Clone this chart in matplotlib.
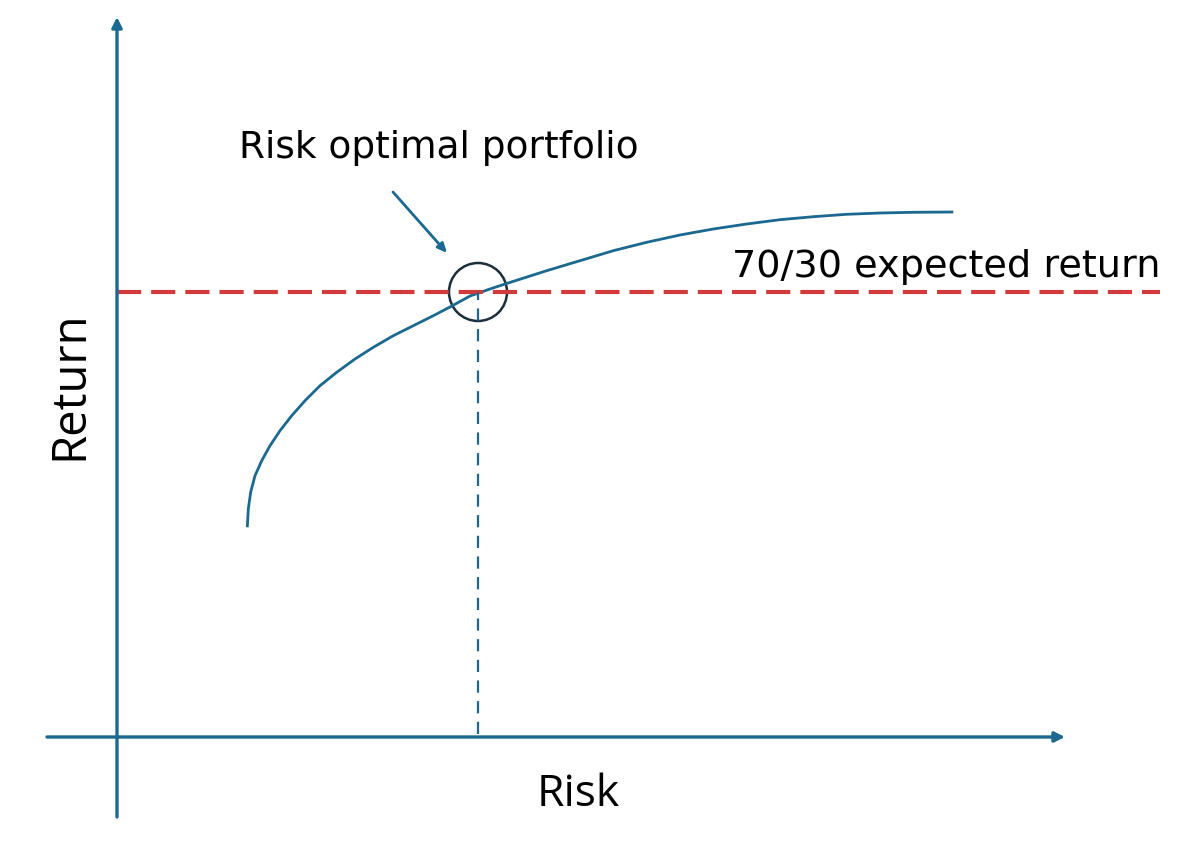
import matplotlib
matplotlib.use('Agg')
import matplotlib.pyplot as plt
from matplotlib.patches import Circle

# efficient frontier (risk, return)
risk = [1.303, 1.313, 1.337, 1.38, 1.447, 1.53, 1.63, 1.747, 1.88, 2.03,
        2.197, 2.38, 2.563, 2.763, 2.963, 3.163, 3.33, 3.53, 3.73, 3.88,
        4.297, 4.63, 4.963, 5.297, 5.63, 5.963, 6.297, 6.63, 6.963, 7.297,
        7.63, 7.963, 8.363]
ret = [2.097, 2.28, 2.45, 2.613, 2.763, 2.913, 3.063, 3.213, 3.363, 3.513,
       3.647, 3.78, 3.897, 4.013, 4.113, 4.213, 4.30, 4.41, 4.48, 4.53,
       4.663, 4.763, 4.863, 4.947, 5.02, 5.08, 5.13, 5.173, 5.203, 5.227,
       5.24, 5.247, 5.25]

target_return = 4.45   # 70/30 expected return
optimal_risk = 3.61    # risk of the optimal portfolio

blue = '#1b6890'
red = '#d13b3b'

fig = plt.figure(figsize=(12, 8.62), dpi=100)
ax = fig.add_axes([0, 0, 1, 1])
ax.set_xlim(-1.17, 10.83)
ax.set_ylim(-1.24, 7.38)
ax.axis('off')

# axes arrows
arrow = dict(arrowstyle='-|>,head_length=0.6,head_width=0.3', color=blue, lw=2.4,
             shrinkA=0, shrinkB=0)
ax.annotate('', xy=(0, 7.2), xytext=(0, -0.8), arrowprops=arrow)
ax.annotate('', xy=(9.48, 0), xytext=(-0.7, 0), arrowprops=arrow)

# frontier
ax.plot(risk, ret, color=blue, lw=2.0, solid_capstyle='butt',
        solid_joinstyle='round')

# expected return line
ax.plot([0, 10.43], [target_return, target_return], color=red, lw=3,
        linestyle=(0, (5.8, 2.4)))

# vertical drop to risk axis
ax.plot([optimal_risk, optimal_risk], [0.03, target_return], color=blue, lw=1.6,
        linestyle=(0, (5.5, 3.8)))

# circle around the optimum
ax.add_patch(Circle((optimal_risk, target_return), 0.29, fill=False,
                    edgecolor='#1c2f3c', lw=1.8))

# pointer to the optimum
ax.annotate('', xy=(3.30, 4.84), xytext=(2.76, 5.45),
            arrowprops=dict(arrowstyle='-|>,head_length=0.55,head_width=0.25',
                            color=blue, lw=2, shrinkA=0, shrinkB=0))

ax.text(3.215, 5.90, 'Risk optimal portfolio', ha='center', va='center',
        fontsize=27, family='DejaVu Sans')
ax.text(10.43, 4.71, '70/30 expected return', ha='right', va='center',
        fontsize=27.5, family='DejaVu Sans')
ax.text(-0.47, 3.53, 'Return', rotation=90, ha='center', va='center',
        fontsize=34, family='Open Sans')
ax.text(4.61, -0.57, 'Risk', ha='center', va='center', fontsize=32,
        family='Open Sans')

plt.savefig('out.png', dpi=100)
plt.close()
